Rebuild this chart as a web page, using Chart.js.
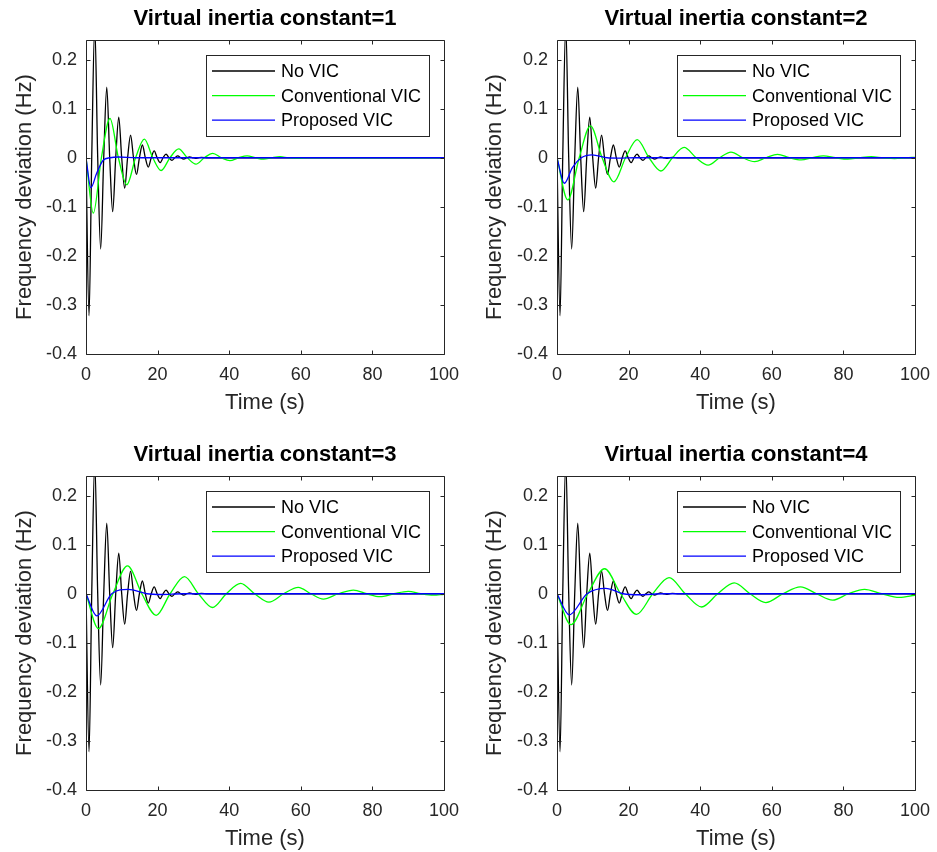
<!DOCTYPE html>
<html>
<head>
<meta charset="utf-8">
<title>Virtual inertia constant</title>
<script src="https://cdn.jsdelivr.net/npm/chart.js@4.4.1/dist/chart.umd.min.js"></script>
<style>
  html, body { margin: 0; padding: 0; background: #fff; width: 937px; height: 852px; overflow: hidden; position: relative; }
  canvas { position: absolute; }
</style>
</head>
<body>
<canvas id="c1"></canvas>
<canvas id="c2"></canvas>
<canvas id="c3"></canvas>
<canvas id="c4"></canvas>
<script>
// axis ticks
const xTicks = [0, 20, 40, 60, 80, 100];
const yTicks = [-0.4, -0.3, -0.2, -0.1, 0, 0.1, 0.2];
const yTickLabels = ['-0.4', '-0.3', '-0.2', '-0.1', '0', '0.1', '0.2'];
const inertiaConstants = [1, 2, 3, 4];
const seriesNames = ['No VIC', 'Conventional VIC', 'Proposed VIC'];

// [time (s), frequency deviation (Hz)] read off the peaks, troughs and zero crossings
// No VIC is the same curve in all four panels
const noVic = [[0,0],[0.85,-0.322],[1.6,0],[2.45,0.27],[3.27,0],[4.1,-0.186],[4.95,0],[5.8,0.144],
  [6.62,0],[7.45,-0.11],[8.3,0],[9.15,0.083],[9.97,0],[10.8,-0.062],[11.62,0],[12.45,0.046],
  [13.27,0],[14.1,-0.034],[14.92,0],[15.75,0.026],[16.57,0],[17.4,-0.019],[18.22,0],[19.05,0.014],
  [19.87,0],[20.7,-0.01],[21.52,0],[22.35,0.0072],[23.17,0],[24,-0.0052],[24.82,0],[25.65,0.0037],
  [26.47,0],[27.3,-0.0026],[28.12,0],[28.95,0.0018],[29.77,0],[30.6,-0.0012],[31.42,0],[32.25,0.0008],
  [34,0],[100,0]];

// Conventional VIC
const conv1 = [[0,0],[2.05,-0.113],[4.3,0],[6.7,0.08],[9.05,0],[11.4,-0.055],[13.85,0],[16.3,0.038],
  [18.65,0],[21,-0.026],[23.45,0],[25.9,0.018],[28.3,0],[30.7,-0.013],[33.05,0],[35.4,0.009],
  [37.8,0],[40.2,-0.006],[42.6,0],[45,0.004],[47.3,0],[49.6,-0.003],[51.9,0],[54.2,0.002],
  [56.5,0],[58.8,-0.001],[62,0],[100,0]];
const conv2 = [[0,0],[3,-0.086],[6.2,0],[9.35,0.065],[12.6,0],[15.9,-0.049],[19.15,0],[22.4,0.037],
  [25.7,0],[29,-0.027],[32.25,0],[35.5,0.021],[38.85,0],[42.2,-0.015],[45.4,0],[48.6,0.0116],
  [51.9,0],[55.2,-0.008],[58.4,0],[61.6,0.007],[64.9,0],[68.2,-0.0045],[71.3,0],[74.4,0.004],
  [77.8,0],[81.2,-0.003],[84.5,0],[87.8,0.002],[91,0],[94.3,-0.0015],[97.5,0],[100,0.0008]];
const conv3 = [[0,0],[3.45,-0.071],[7.5,0],[11.6,0.057],[15.6,0],[19.6,-0.044],[23.5,0],[27.5,0.035],
  [31.4,0],[35.3,-0.028],[39.2,0],[43.2,0.021],[47.1,0],[51.1,-0.017],[55.2,0],[59.3,0.013],
  [62.8,0],[66.3,-0.011],[70.5,0],[74.7,0.0075],[78.4,0],[82.1,-0.006],[86,0],[90,0.005],
  [93.5,0],[97,-0.003],[100,-0.001]];
const conv4 = [[0,0],[3.9,-0.063],[8.6,0],[13.3,0.051],[17.75,0],[22.2,-0.042],[26.75,0],[31.3,0.033],
  [35.85,0],[40.4,-0.027],[44.9,0],[49.5,0.022],[53.9,0],[58.3,-0.018],[63.1,0],[68,0.014],
  [72.5,0],[77,-0.013],[81.4,0],[85.9,0.009],[90.7,0],[95.6,-0.0075],[100,-0.003]];

// Proposed VIC
const prop1 = [[0,0],[1.35,-0.061],[3,-0.031],[4.8,-0.005],[6.7,0],[9,0.0015],[14,0],[100,0]];
const prop2 = [[0,0],[2.05,-0.052],[4.3,-0.02],[6.8,0],[9.8,0.006],[14,0],[17,-0.0008],[22,0],[100,0]];
const prop3 = [[0,0],[3,-0.045],[7.2,0],[11.8,0.0088],[17,0],[21,-0.0015],[27,0],[100,0]];
const prop4 = [[0,0],[3.4,-0.043],[8.4,0],[13.6,0.011],[18.5,0],[23,-0.002],[30,0],[100,0]];

const convSeries = [conv1, conv2, conv3, conv4];
const propSeries = [prop1, prop2, prop3, prop4];
const lineColors = ['#000000', '#00ff00', '#0000ff'];

// where each panel sits on the page (axes box left/right, canvas left/top)
const panelBoxes = [
  { left: 0,   top: 0,   axisLeft: 86,  axisRight: 444 },
  { left: 470, top: 0,   axisLeft: 557, axisRight: 915 },
  { left: 0,   top: 436, axisLeft: 86,  axisRight: 444 },
  { left: 470, top: 436, axisLeft: 557, axisRight: 915 }
];
const canvasHeight = 416;
const fontFamily = "'Liberation Sans', Arial, Helvetica, sans-serif";
const axisGray = '#262626';

Chart.defaults.font.family = fontFamily;

function toPoints(pairs) {
  return pairs.map(p => ({ x: p[0], y: p[1] }));
}

// box round the axes with inward tick marks on all four sides
const boxPlugin = {
  id: 'matlabBox',
  afterDatasetsDraw(chart) {
    const { ctx, chartArea: a, scales } = chart;
    const l = Math.round(a.left) + 0.5, r = Math.round(a.right) + 0.5;
    const t = Math.round(a.top) + 0.5, b = Math.round(a.bottom) + 0.5;
    const len = 4;
    ctx.save();
    ctx.strokeStyle = axisGray;
    ctx.lineWidth = 1;
    ctx.beginPath();
    ctx.rect(l, t, r - l, b - t);
    xTicks.forEach(v => {
      const px = Math.round(scales.x.getPixelForValue(v)) + 0.5;
      ctx.moveTo(px, b); ctx.lineTo(px, b - len);
      ctx.moveTo(px, t); ctx.lineTo(px, t + len);
    });
    yTicks.forEach(v => {
      const py = Math.round(scales.y.getPixelForValue(v)) + 0.5;
      ctx.moveTo(l, py); ctx.lineTo(l + len, py);
      ctx.moveTo(r, py); ctx.lineTo(r - len, py);
    });
    ctx.stroke();
    ctx.restore();
  }
};

// legend box in the upper right corner of the axes
const insideLegend = {
  id: 'insideLegend',
  afterDraw(chart) {
    const { ctx, chartArea: a } = chart;
    const sets = chart.data.datasets;
    ctx.save();
    ctx.font = '18px ' + fontFamily;
    const textW = Math.max(...sets.map(d => ctx.measureText(d.label).width));
    const w = Math.round(75 + textW + 8), h = 81;
    const right = Math.round(a.right - 15), top = Math.round(a.top + 15);
    const left = right - w;
    ctx.fillStyle = '#fff';
    ctx.fillRect(left, top, w, h);
    ctx.strokeStyle = axisGray;
    ctx.lineWidth = 1;
    ctx.strokeRect(left + 0.5, top + 0.5, w, h);
    sets.forEach((d, i) => {
      const yy = top + 16 + i * 24.6;
      ctx.strokeStyle = d.borderColor;
      ctx.lineWidth = 1.3;
      ctx.beginPath();
      ctx.moveTo(left + 6, yy);
      ctx.lineTo(left + 69, yy);
      ctx.stroke();
      ctx.fillStyle = '#000';
      ctx.textBaseline = 'middle';
      ctx.textAlign = 'left';
      ctx.fillText(d.label, left + 75, yy + 1);
    });
    ctx.restore();
  }
};

inertiaConstants.forEach((h, i) => {
  const box = panelBoxes[i];
  const center = (box.axisLeft + box.axisRight) / 2;
  const width = Math.round(2 * (center - box.left));
  const yAxisWidth = box.axisLeft - box.left;
  const rightGap = width - (box.axisRight - box.left);

  const canvas = document.getElementById('c' + (i + 1));
  canvas.width = width;
  canvas.height = canvasHeight;
  canvas.style.left = box.left + 'px';
  canvas.style.top = box.top + 'px';

  new Chart(canvas, {
    type: 'line',
    data: {
      datasets: [
        { label: seriesNames[0], data: toPoints(noVic), borderColor: lineColors[0], order: 3 },
        { label: seriesNames[1], data: toPoints(convSeries[i]), borderColor: lineColors[1], order: 2 },
        { label: seriesNames[2], data: toPoints(propSeries[i]), borderColor: lineColors[2], order: 1 }
      ]
    },
    options: {
      responsive: false,
      animation: false,
      events: [],
      layout: { padding: 0 },
      elements: {
        point: { radius: 0 },
        line: { borderWidth: 1.3, cubicInterpolationMode: 'monotone', fill: false }
      },
      plugins: {
        legend: { display: false },
        tooltip: { enabled: false },
        title: {
          display: true,
          text: 'Virtual inertia constant=' + h,
          color: '#000',
          font: { size: 22, weight: 'bold', lineHeight: 1.2 },
          padding: { top: 6, bottom: 7.6 }
        }
      },
      scales: {
        x: {
          type: 'linear',
          min: 0,
          max: 100,
          grid: { display: false, drawTicks: false },
          border: { display: false },
          afterBuildTicks: s => { s.ticks = xTicks.map(v => ({ value: v })); },
          afterFit: s => { s.height = canvasHeight - 354; },
          ticks: { color: axisGray, font: { size: 18 }, padding: 10, maxRotation: 0, autoSkip: false,
                   callback: v => String(v) },
          title: { display: true, text: 'Time (s)', color: axisGray,
                   font: { size: 22, lineHeight: 1.2 }, padding: { top: 0, bottom: 0 } }
        },
        y: {
          min: -0.4,
          max: 0.24,
          grid: { display: false, drawTicks: false },
          border: { display: false },
          afterBuildTicks: s => { s.ticks = yTicks.map(v => ({ value: v })); },
          afterFit: s => { s.width = yAxisWidth; },
          ticks: { color: axisGray, font: { size: 18 }, padding: 9, autoSkip: false,
                   callback: (v, idx) => yTickLabels[idx] },
          title: { display: true, text: 'Frequency deviation (Hz)', color: axisGray,
                   font: { size: 22, lineHeight: 1.2 }, padding: { top: 12, bottom: 0 } }
        },
        // empty right axis keeps the title centred over the axes box
        yRight: {
          position: 'right',
          min: -0.4,
          max: 0.24,
          grid: { display: false, drawTicks: false },
          border: { display: false },
          ticks: { display: false },
          afterFit: s => { s.width = rightGap; }
        }
      }
    },
    plugins: [boxPlugin, insideLegend]
  });
});
</script>
</body>
</html>
